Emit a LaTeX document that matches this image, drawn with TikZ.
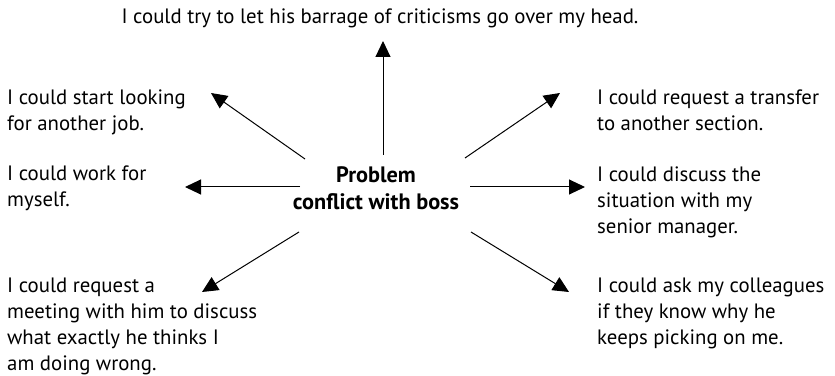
\documentclass[tikz,border=0pt]{standalone}
\usepackage{fontspec}
\setmainfont{PT Sans}
\usetikzlibrary{arrows.meta}
\begin{document}
\begin{tikzpicture}[x=1pt,y=1pt,
  idea/.style={inner sep=0pt, anchor=base west, align=left,
    font=\fontsize{20.8}{26}\selectfont},
  hub/.style={inner sep=0pt, align=center,
    font=\fontsize{22.3}{27}\selectfont\bfseries},
  link/.style={line width=1pt, -{Triangle[length=16pt,width=15pt]}}]
\useasboundingbox (0,0) rectangle (835,375);

% central problem (anchored on the baseline of its last line)
\node[hub, anchor=base] (hub) at (376,165) {Problem\\conflict with boss};

% options around the problem
\node[idea, anchor=base] (top) at (380,351)
  {I could try to let his barrage of criticisms go over my head.};
\node[idea] (jobs) at (7,244) {I could start looking\\for another job.};
\node[idea] (self) at (7,168) {I could work for\\myself.};
\node[idea] (meet) at (7,5)
  {I could request a\\meeting with him to discuss\\what exactly he thinks I\\am doing wrong.};
\node[idea] (transfer) at (597,244) {I could request a transfer\\to another section.};
\node[idea] (senior) at (597,141) {I could discuss the\\situation with my\\senior manager.};
\node[idea] (ask) at (597,31)
  {I could ask my colleagues\\if they know why he\\keeps picking on me.};

% arrow ends
\coordinate (sU)  at (383,220); \coordinate (eU)  at (383,334);
\coordinate (sUL) at (305,216); \coordinate (eUL) at (211,282);
\coordinate (sUR) at (465,217); \coordinate (eUR) at (560,282);
\coordinate (sL)  at (300,188); \coordinate (eL)  at (185,188);
\coordinate (sR)  at (470,188); \coordinate (eR)  at (585,188);
\coordinate (sLL) at (299,143); \coordinate (eLL) at (202,83);
\coordinate (sLR) at (471,143); \coordinate (eLR) at (569,83);

\draw[link] (sU) -- (eU);
\draw[link] (sUL) -- (eUL);
\draw[link] (sUR) -- (eUR);
\draw[link] (sL) -- (eL);
\draw[link] (sR) -- (eR);
\draw[link] (sLL) -- (eLL);
\draw[link] (sLR) -- (eLR);
\end{tikzpicture}
\end{document}
